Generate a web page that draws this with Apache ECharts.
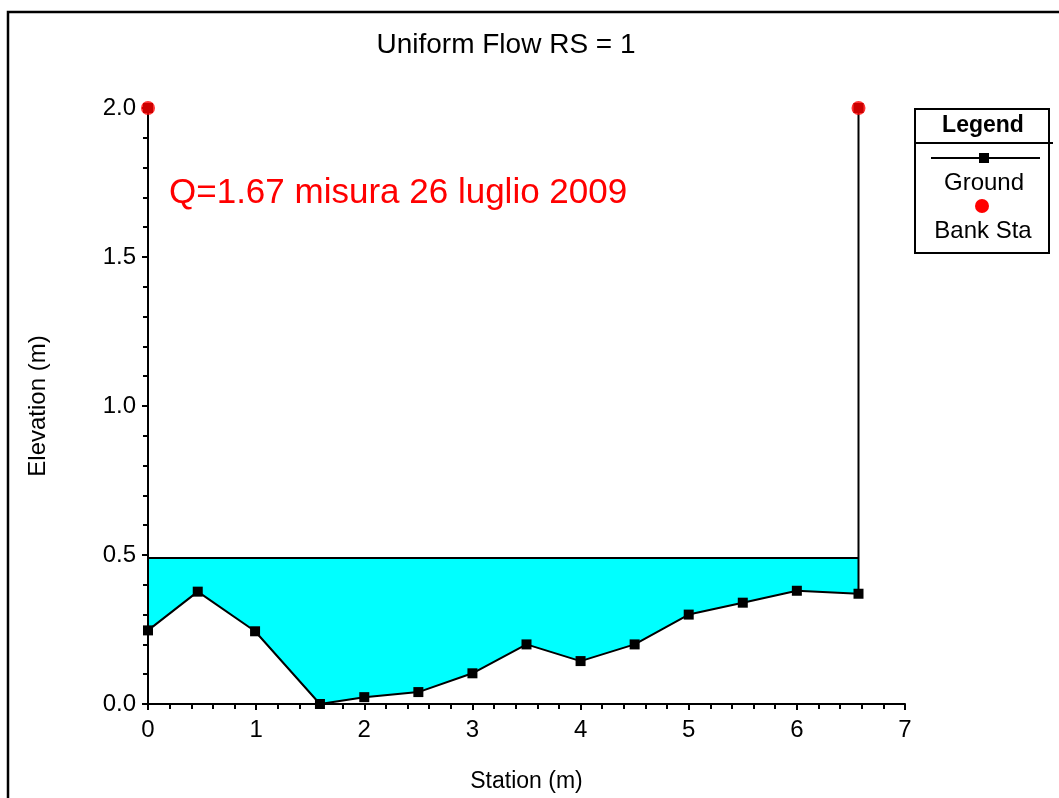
<!DOCTYPE html>
<html>
<head>
<meta charset="utf-8">
<script src="https://cdn.jsdelivr.net/npm/echarts@6/dist/echarts.min.js"></script>
<style>
  html, body { margin: 0; padding: 0; background: #fff; }
  #chart { width: 1059px; height: 798px; }
</style>
</head>
<body>
<div id="chart"></div>
<script>
// Cross-section survey: station (m) and ground elevation (m)
const station   = [0, 0, 0.46, 0.99, 1.59, 2.0, 2.5, 3.0, 3.5, 4.0, 4.5, 5.0, 5.5, 6.0, 6.57, 6.57];
const elevation = [2.0, 0.247, 0.377, 0.244, 0.0, 0.023, 0.04, 0.103, 0.2, 0.144, 0.2, 0.3, 0.34, 0.38, 0.37, 2.0];

// Bank stations
const bankStation   = [0, 6.57];
const bankElevation = [2.0, 2.0];

// Water surface elevation for the uniform flow run
const waterSurface = 0.49;

// Axis tick values
const yTicks = [0.0, 0.5, 1.0, 1.5, 2.0];
const xTicks = [0, 1, 2, 3, 4, 5, 6, 7];

const titleText = 'Uniform Flow RS = 1';
const noteText = 'Q=1.67 misura 26 luglio 2009';
const legendItems = ['Ground', 'Bank Sta'];

const FONT = '"Liberation Sans", Arial, sans-serif';

const groundPts = station.map((s, i) => [s, elevation[i]]);
const bankPts = bankStation.map((s, i) => [s, bankElevation[i]]);
// Wetted part of the section: interior ground points between the banks
const wetted = groundPts.slice(1, groundPts.length - 1);
const wsLine = [[wetted[0][0], waterSurface], [wetted[wetted.length - 1][0], waterSurface]];

const chart = echarts.init(document.getElementById('chart'));

const option = {
  animation: false,
  backgroundColor: '#fff',
  grid: { left: 148, right: 154, top: 108, bottom: 90, containLabel: false },
  xAxis: {
    type: 'value',
    min: xTicks[0], max: xTicks[xTicks.length - 1], interval: 1,
    name: 'Station (m)', nameLocation: 'middle', nameGap: 66,
    nameTextStyle: { fontFamily: FONT, fontSize: 23, color: '#000' },
    axisLine: { show: true, onZero: false, lineStyle: { color: '#000', width: 2 } },
    axisTick: { show: true, length: 6, lineStyle: { color: '#000', width: 2 } },
    minorTick: { show: true, splitNumber: 5, length: 5, lineStyle: { color: '#000', width: 2 } },
    axisLabel: { fontFamily: FONT, fontSize: 24, color: '#000', margin: 14 },
    splitLine: { show: false }
  },
  yAxis: {
    type: 'value',
    min: yTicks[0], max: yTicks[yTicks.length - 1], interval: 0.5,
    name: 'Elevation (m)', nameLocation: 'middle', nameGap: 98,
    nameTextStyle: { fontFamily: FONT, fontSize: 24, color: '#000' },
    axisLine: { show: true, onZero: false, lineStyle: { color: '#000', width: 2 } },
    axisTick: { show: true, length: 6, lineStyle: { color: '#000', width: 2 } },
    minorTick: { show: true, splitNumber: 5, length: 5, lineStyle: { color: '#000', width: 2 } },
    axisLabel: { fontFamily: FONT, fontSize: 24, color: '#000', margin: 12,
                 formatter: v => v.toFixed(1) },
    splitLine: { show: false }
  },
  graphic: [
    // outer frame
    { type: 'rect', z: 100,
      shape: { x: 8, y: 12, width: 1200, height: 1000 },
      style: { fill: 'none', stroke: '#000', lineWidth: 2.5 } },
    { type: 'text', x: 506, y: 45, z: 100,
      style: { text: titleText, font: '28px ' + FONT, fill: '#000',
               align: 'center', verticalAlign: 'middle' } },
    { type: 'text', x: 169, y: 193, z: 100,
      style: { text: noteText, font: '35px ' + FONT, fill: '#ff0000',
               align: 'left', verticalAlign: 'middle' } },
    // legend box
    { type: 'rect', z: 100,
      shape: { x: 915, y: 109, width: 134, height: 144 },
      style: { fill: '#fff', stroke: '#000', lineWidth: 2 } },
    { type: 'line', z: 101,
      shape: { x1: 915, y1: 143, x2: 1053, y2: 143 },
      style: { stroke: '#000', lineWidth: 2 } },
    { type: 'text', x: 983, y: 126, z: 101,
      style: { text: 'Legend', font: 'bold 23px ' + FONT, fill: '#000',
               align: 'center', verticalAlign: 'middle' } },
    { type: 'line', z: 101,
      shape: { x1: 931, y1: 158, x2: 1040, y2: 158 },
      style: { stroke: '#000', lineWidth: 2 } },
    { type: 'rect', z: 102,
      shape: { x: 979, y: 153, width: 10, height: 10 },
      style: { fill: '#000' } },
    { type: 'text', x: 984, y: 183, z: 101,
      style: { text: legendItems[0], font: '24px ' + FONT, fill: '#000',
               align: 'center', verticalAlign: 'middle' } },
    { type: 'circle', z: 101,
      shape: { cx: 982, cy: 206, r: 7 },
      style: { fill: '#ff0000' } },
    { type: 'text', x: 983, y: 231, z: 101,
      style: { text: legendItems[1], font: '24px ' + FONT, fill: '#000',
               align: 'center', verticalAlign: 'middle' } }
  ],
  series: [
    {
      // water area between the surface and the channel bed
      type: 'custom',
      z: 1,
      data: [0],
      clip: true,
      renderItem: function (params, api) {
        const pts = [api.coord(wsLine[0]), api.coord(wsLine[1])];
        for (let i = wetted.length - 1; i >= 0; i--) pts.push(api.coord(wetted[i]));
        return { type: 'polygon', shape: { points: pts },
                 style: { fill: '#00ffff', stroke: 'none' } };
      }
    },
    {
      name: 'Water Surface', type: 'line', z: 2,
      data: wsLine, symbol: 'none',
      lineStyle: { color: '#000', width: 2 }
    },
    {
      name: legendItems[0], type: 'line', z: 3,
      data: groundPts, symbol: 'rect', symbolSize: 10,
      itemStyle: { color: '#000' },
      lineStyle: { color: '#000', width: 2 }
    },
    {
      name: legendItems[1], type: 'scatter', z: 4,
      data: bankPts, symbol: 'circle', symbolSize: 14,
      itemStyle: { color: '#ff0000' }
    }
  ]
};

chart.setOption(option);
</script>
</body>
</html>
